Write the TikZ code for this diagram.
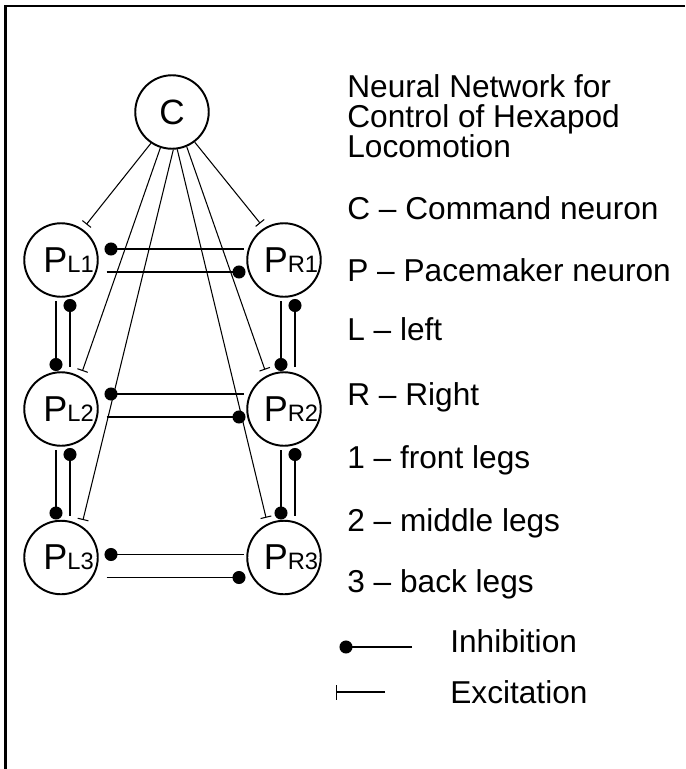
\documentclass[tikz,border=0pt]{standalone}
\usepackage{fontspec}
\setmainfont{Liberation Sans}
\usetikzlibrary{arrows.meta, calc}
\newcommand{\pname}[1]{{\fontsize{20.5}{20}\selectfont P}{\fontsize{13.5}{14}\selectfont #1}}

\begin{document}
\begin{tikzpicture}[
  neuron/.style={draw,circle,line width=1.1pt,minimum size=1.47cm,inner sep=0pt},
  inh/.style={-{Circle[length=2.6mm]},line width=0.7pt},
  exc/.style={-{Bar[width=2.2mm]},line width=0.6pt,shorten >=1.2mm},
  key/.style={anchor=base west,inner sep=0pt,font=\fontsize{18}{17}\selectfont}]
\useasboundingbox (0,0) rectangle (13.7,-15.38);

% frame (left and top edges only)
\draw[line width=0.05cm] (0.11,-15.38) -- (0.11,-0.12) -- (13.7,-0.12);

% neurons
\node[neuron,font=\fontsize{20}{20}\selectfont] (C) at (3.44,-2.24) {C};
\node[neuron,label={[xshift=1.5mm]center:\pname{L1}}] (PL1) at (1.22,-5.20) {};
\node[neuron,label={[xshift=1.4mm]center:\pname{R1}}] (PR1) at (5.68,-5.20) {};
\node[neuron,label={[xshift=1.5mm]center:\pname{L2}}] (PL2) at (1.22,-8.18) {};
\node[neuron,label={[xshift=1.4mm]center:\pname{R2}}] (PR2) at (5.68,-8.18) {};
\node[neuron,label={[xshift=1.5mm]center:\pname{L3}}] (PL3) at (1.22,-11.15) {};
\node[neuron,label={[xshift=1.4mm]center:\pname{R3}}] (PR3) at (5.68,-11.15) {};

% excitation from the command neuron
\draw[exc] (C.236) -- (PL1.55);
\draw[exc] (C.252) -- (PL2.59);
\draw[exc] (C.272) -- (PL3.57);
\draw[exc] (C.278) -- (PR3.116);
\draw[exc] (C.293) -- (PR2.117);
\draw[exc] (C.307) -- (PR1.122);

% mutual inhibition left <-> right
\foreach \r/\u/\l in {1/0.22/-0.24, 2/0.30/-0.16, 3/0.06/-0.40} {
  \draw[inh] ($(PR\r)+(-0.81,\u)$) -- ($(PL\r)+(0.87,\u)$);
  \draw[inh] ($(PL\r)+(0.91,\l)$) -- ($(PR\r)+(-0.77,\l)$);
}

% mutual inhibition front <-> back
\foreach \a/\b in {1/2, 2/3} {
  \draw[inh] ($(PL\a)+(-0.10,-0.82)$) -- ($(PL\b)+(-0.10,0.76)$);
  \draw[inh] ($(PL\b)+(0.18,0.84)$) -- ($(PL\a)+(0.18,-0.78)$);
  \draw[inh] ($(PR\a)+(-0.06,-0.82)$) -- ($(PR\b)+(-0.06,0.76)$);
  \draw[inh] ($(PR\b)+(0.22,0.84)$) -- ($(PR\a)+(0.22,-0.78)$);
}

% key
\node[key,align=left] (title) at (6.94,-3.14) {Neural Network for\\Control of Hexapod\\Locomotion};
\node[key] (kC) at (6.94,-4.38) {C – Command neuron};
\node[key] (kP) at (6.94,-5.62) {P – Pacemaker neuron};
\node[key] (kL) at (6.94,-6.80) {L – left};
\node[key] (kR) at (6.94,-8.10) {R – Right};
\node[key] (k1) at (6.94,-9.36) {1 – front legs};
\node[key] (k2) at (6.94,-10.62) {2 – middle legs};
\node[key] (k3) at (6.94,-11.84) {3 – back legs};
\node[key] (kInh) at (9.00,-13.04) {Inhibition};
\node[key] (kExc) at (9.00,-14.06) {Excitation};
\draw[inh] ($(kInh.base west)+(-0.76,0.10)$) -- ($(kInh.base west)+(-2.21,0.10)$);
\draw[-{Bar[width=3mm]},line width=0.7pt] ($(kExc.base west)+(-1.30,0.22)$) -- ($(kExc.base west)+(-2.28,0.22)$);
\end{tikzpicture}
\end{document}
